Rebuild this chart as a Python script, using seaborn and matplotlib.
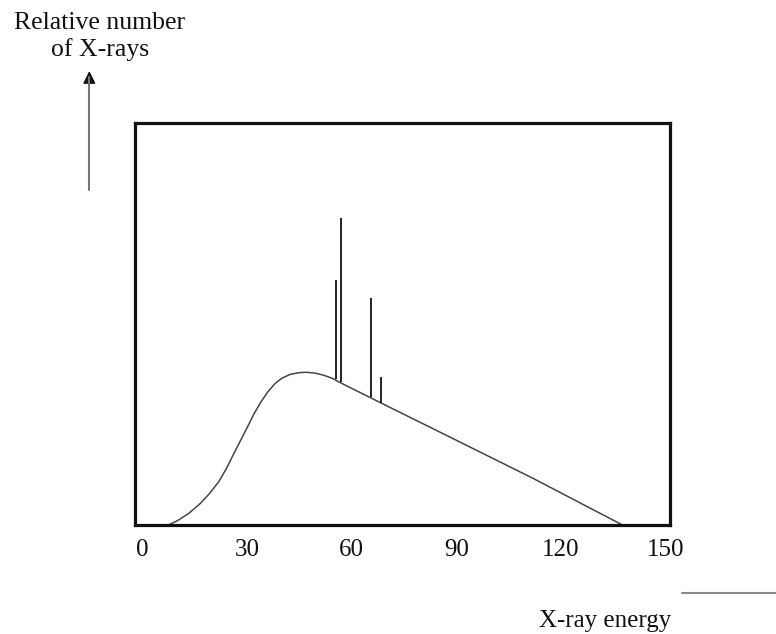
import numpy as np
import pandas as pd
import seaborn as sns
import matplotlib.pyplot as plt
from matplotlib.lines import Line2D

sns.set_theme(style="white")
plt.rcParams['font.family'] = ['Liberation Serif', 'DejaVu Serif']

# continuous (bremsstrahlung) spectrum
energy = [7.5, 10, 13.4, 16.5, 19.3, 22, 24.2, 26.2, 28.2, 30.2, 32.1, 34.1, 36.1,
          38, 40, 42.5, 45, 47, 49.5, 51.9, 54.5, 56.8, 68.6, 92.3, 112, 137.6]
counts = [0, 1.0, 2.9, 5.2, 7.8, 10.8, 14.1, 17.6, 21.0, 24.4, 27.7, 30.7, 33.2,
          35.1, 36.5, 37.5, 37.9, 38.0, 37.8, 37.3, 36.5, 35.4, 30.3, 20.1, 11.6, 0]

# characteristic lines
line_energy = [55.5, 57.0, 65.6, 68.5]
line_base = [36.3, 35.6, 31.9, 30.3]
line_top = [60.9, 76.3, 56.4, 36.9]

tick_vals = [0, 30, 60, 90, 120, 150]

df = pd.DataFrame({'energy': energy, 'count': counts})

fig = plt.figure(figsize=(7.76, 6.34), dpi=100)
ax = fig.add_axes([0.174, 0.1719, 0.6894, 0.634])

sns.lineplot(data=df, x='energy', y='count', sort=False, estimator=None,
             color='#444444', lw=1.1, ax=ax)
ax.vlines(line_energy, line_base, line_top, color='#222222', lw=1.4)

ax.set_xlim(-2.0, 151.2)
ax.set_ylim(0, 100)
ax.set_xticks(tick_vals)
ax.set_xticklabels([str(t) for t in tick_vals], fontsize=18, color='#111111')
ax.set_yticks([])
ax.tick_params(axis='x', length=0, pad=10)
ax.set_xlabel('')
ax.set_ylabel('')
for sp in ax.spines.values():
    sp.set_visible(True)
    sp.set_color('#111111')
    sp.set_linewidth(2.3)

# y-axis caption with arrow (gray shaft, black head)
fig.text(0.1289, 0.942, 'Relative number\nof X-rays', ha='center', va='center',
         fontsize=18.5, multialignment='center', color='#111111')
fig.add_artist(Line2D([0.1151, 0.1151], [0.7003, 0.878], color='#777777', lw=1.5,
                      transform=fig.transFigure))
ax.annotate('', xy=(0.1151, 0.8923), xytext=(0.1151, 0.872),
            xycoords='figure fraction', textcoords='figure fraction',
            arrowprops=dict(arrowstyle='-|>', color='#111111', lw=1.0, mutation_scale=19))

# x-axis caption with line
fig.text(0.6946, 0.0115, 'X-ray energy', ha='left', va='baseline',
         fontsize=18, color='#111111')
fig.add_artist(Line2D([0.8785, 1.0], [0.0642, 0.0642], color='#888888', lw=1.5,
                      transform=fig.transFigure))

plt.savefig('out.png', dpi=100)
